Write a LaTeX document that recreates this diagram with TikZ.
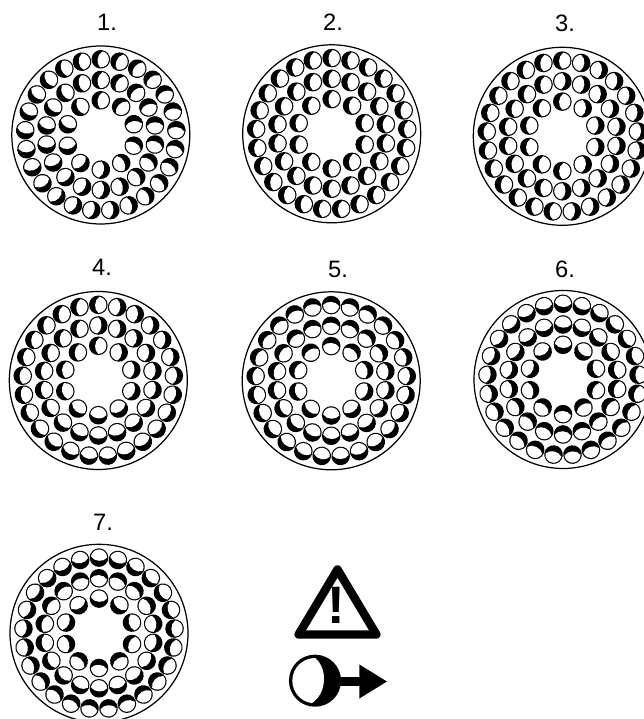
\documentclass[tikz,border=0pt]{standalone}
\usepackage{fontspec}
\setmainfont{Liberation Sans}
\usetikzlibrary{arrows.meta}

\tikzset{
  fibre/.pic={
    \fill (0,0) circle (9.3);
    \fill[white] (90:8.1) arc[start angle=90,end angle=262,radius=8.1]
      .. controls (4.3,-4.6) and (4.6,4.6) .. cycle;
  }
}

\begin{document}
\begin{tikzpicture}[
  x=0.02cm, y=0.02cm,
  lab/.style={font=\fontsize{13.5}{16}\selectfont, anchor=base},
  rim/.style={line width=0.7pt},
  warn/.style={line width=4.8pt, line join=round},
  pointer/.style={-{Triangle[length=0.56cm,width=0.64cm]}, line width=5.3pt}
]
\path[use as bounding box, clip] (0,0) rectangle (644,719);
% one entry per bundle: number, centre, label, crescent angle of the three rings
\foreach \num/\cx/\cy/\tx/\ty/\ao/\am/\ai in {
  1/100.8/584/107/688.3/\pos+85/\pos+85/\pos+85,
  2/331.7/585.2/333/688/180/180/180,
  3/562.3/582.7/565/687/{cos(\pos)>0.01?0:180}/{cos(\pos)>-0.01?0:180}/{cos(\pos)>0.01?0:180},
  4/98.3/338.5/102/443/{sin(\pos)>0?(cos(\pos)>0.01?0:180):\pos}/{sin(\pos)>0?(cos(\pos)>-0.01?0:180):\pos}/{sin(\pos)>0?(cos(\pos)>0.01?0:180):\pos},
  5/331.2/338.2/338/441.3/\pos/\pos/\pos,
  6/563/339.5/565/441.3/\pos+180/\pos+180/\pos+180,
  7/99/85.7/103/188.3/\pos+180/\pos/\pos+180}
{
  \node[lab] (lab\num) at (\tx,\ty) {\num.};
  \draw[rim] (\cx,\cy) circle (89);
  \foreach \nf/\rr/\ex in {25/75.7/\ao,18/55/\am,10/34.7/\ai}
    \foreach \i in {1,...,\nf} {
      \pgfmathsetmacro\pos{90+360*(\i-1)/\nf}
      \pgfmathsetmacro\ang{\ex}
      \path (\cx,\cy) ++(\pos:\rr) pic[rotate=\ang] {fibre};
    }
}
% warning sign
\draw[warn] (337.5,149.5) -- (298.6,84.5) -- (376.4,84.5) -- cycle;
\node[font=\bfseries\fontsize{30}{30}\selectfont] (mark) at (336.7,113.5) {!};
% crescent with its arrow
\coordinate (tip) at (387.3,37.5);
\coordinate (ball) at (315,38.3);
\coordinate (tail) at (335,37.5);
\path (ball) pic[scale=2.8] {fibre};
\draw[pointer] (tail) -- (tip);
\end{tikzpicture}
\end{document}
